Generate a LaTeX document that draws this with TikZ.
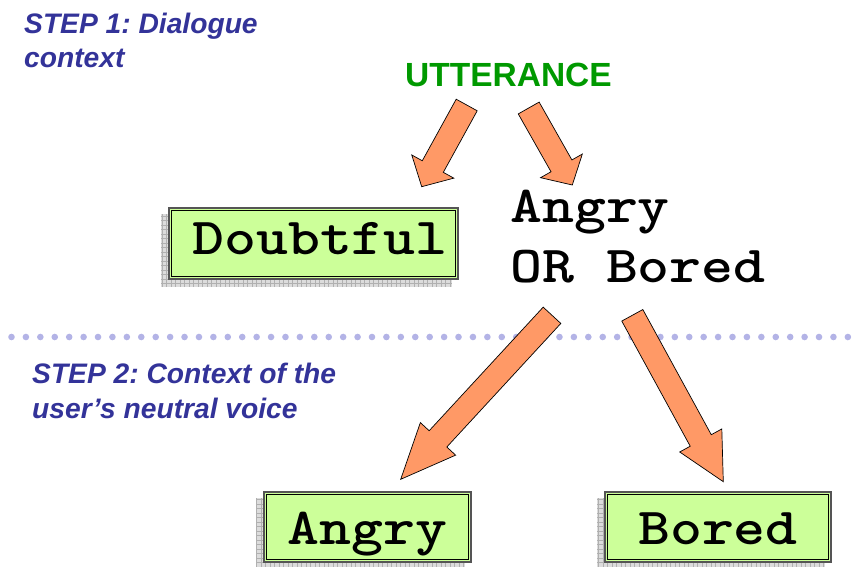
\documentclass[tikz,border=0pt]{standalone}
\usepackage{fontspec}
\usepackage{graphicx}
\usetikzlibrary{calc}
\newfontfamily\arial{Liberation Sans}
\pgfdeclarelayer{background}
\pgfsetlayers{background,main}

\definecolor{stepblue}{HTML}{333399}
\definecolor{uttgreen}{HTML}{009900}
\definecolor{boxgreen}{HTML}{CCFF99}
\definecolor{arroworange}{HTML}{FF9966}
\definecolor{dotlilac}{HTML}{B3B3E6}
\definecolor{shadowfill}{HTML}{DCDCDC}
\definecolor{shadowgrid}{HTML}{B0B0B0}
\definecolor{boxedge}{HTML}{555555}

% wide bold typewriter lettering
\newcommand\widemono[1]{\scalebox{1.17}[1]{#1}}

% block arrow from tail coordinate #1 to tip coordinate #2, head length #3
\newcommand\blockarrow[3]{%
  \draw[blockarrow]
    ($(#1)!12pt!90:(#2)$) --
    ($(#2)!#3!(#1)!12pt!90:(#2)$) --
    ($(#2)!#3!(#1)!24pt!90:(#2)$) --
    (#2) --
    ($(#2)!#3!(#1)!24pt!-90:(#2)$) --
    ($(#2)!#3!(#1)!12pt!-90:(#2)$) --
    ($(#1)!12pt!-90:(#2)$) -- cycle;}

% grid-patterned drop shadow of a choice box
\newcommand\choiceshadow[1]{%
  \begin{scope}
    \clip ($(#1.south west)+(-7,-7)$) rectangle ($(#1.north east)+(-7,-7)$);
    \fill[shadowfill] ($(#1.south west)+(-7,-7)$) rectangle ($(#1.north east)+(-7,-7)$);
    \draw[shadowgrid, line width=0.5, step=4.5] ($(#1.south west)+(-10,-10)$) grid ($(#1.north east)$);
  \end{scope}}

% thin inner frame line of a choice box
\newcommand\choiceframe[1]{%
  \draw[innerframe] ($(#1.south west)+(3,3)$) rectangle ($(#1.north east)+(-3,-3)$);}

\tikzset{
  x=1pt, y=1pt,
  steplabel/.style={anchor=north west, inner sep=0, align=left, text=stepblue,
    font=\arial\bfseries\itshape\fontsize{28.2}{34}\selectfont},
  uttlabel/.style={anchor=base west, inner sep=0, text=uttgreen,
    font=\arial\bfseries\fontsize{33.5}{40}\selectfont},
  monotext/.style={inner sep=0, font=\ttfamily\bfseries\fontsize{52}{60}\selectfont},
  choicebox/.style={monotext, fill=boxgreen, draw=boxedge, line width=1.6},
  innerframe/.style={draw=black, line width=0.7},
  blockarrow/.style={fill=arroworange, draw=black, line width=0.7, line join=miter},
  sepdot/.style={fill=dotlilac},
}

\begin{document}
\frenchspacing
\begin{tikzpicture}
\useasboundingbox (0,0) rectangle (857,-567);

% section captions
\node[steplabel] (step1) at (24,-13) {STEP 1: Dialogue\\context};
\node[steplabel, font=\arial\bfseries\itshape\fontsize{28.2}{35}\selectfont]
  (step2) at (32,-363) {STEP 2: Context of the\\user’s neutral voice};

% dotted separator between the two steps
\foreach \i in {0,...,58}
  \fill[sepdot] ({11.5+14.42*\i},-337) circle (3.3);

% utterance and first-step outcome
\node[uttlabel] (utt) at (405,-87) {UTTERANCE};

\node[choicebox, minimum width=289, minimum height=71, text height=32, text depth=11]
  (doubtful) at (313.5,-243.5) {\hspace*{13pt}\widemono{Doubtful}};

\node[monotext, anchor=base west, align=left] (either) at (510,-282)
  {\widemono{Angry}\\\widemono{OR Bored}};

% second-step outcomes
\node[choicebox, minimum width=207, minimum height=70, text height=40, text depth=6]
  (angry) at (367.5,-527) {\widemono{Angry}};
\node[choicebox, minimum width=226, minimum height=70, text height=40, text depth=6]
  (bored) at (718,-527) {\widemono{Bored}};

% shadows underneath the boxes, frame lines inside them
\begin{pgfonlayer}{background}
  \choiceshadow{doubtful}
  \choiceshadow{angry}
  \choiceshadow{bored}
\end{pgfonlayer}
\choiceframe{doubtful}
\choiceframe{angry}
\choiceframe{bored}

% arrow anchor points
\coordinate (a1tail) at (466.7,-105);
\coordinate (a1tip)  at (421.7,-186.7);
\coordinate (a2tail) at (528.7,-108);
\coordinate (a2tip)  at (572.3,-185);
\coordinate (a3tail) at (552,-315.3);
\coordinate (a3tip)  at (400.7,-479.3);
\coordinate (a4tail) at (632.3,-315.3);
\coordinate (a4tip)  at (723.3,-481.7);

\blockarrow{a1tail}{a1tip}{23pt}
\blockarrow{a2tail}{a2tip}{22pt}
\blockarrow{a3tail}{a3tip}{55pt}
\blockarrow{a4tail}{a4tip}{47pt}
\end{tikzpicture}
\end{document}
